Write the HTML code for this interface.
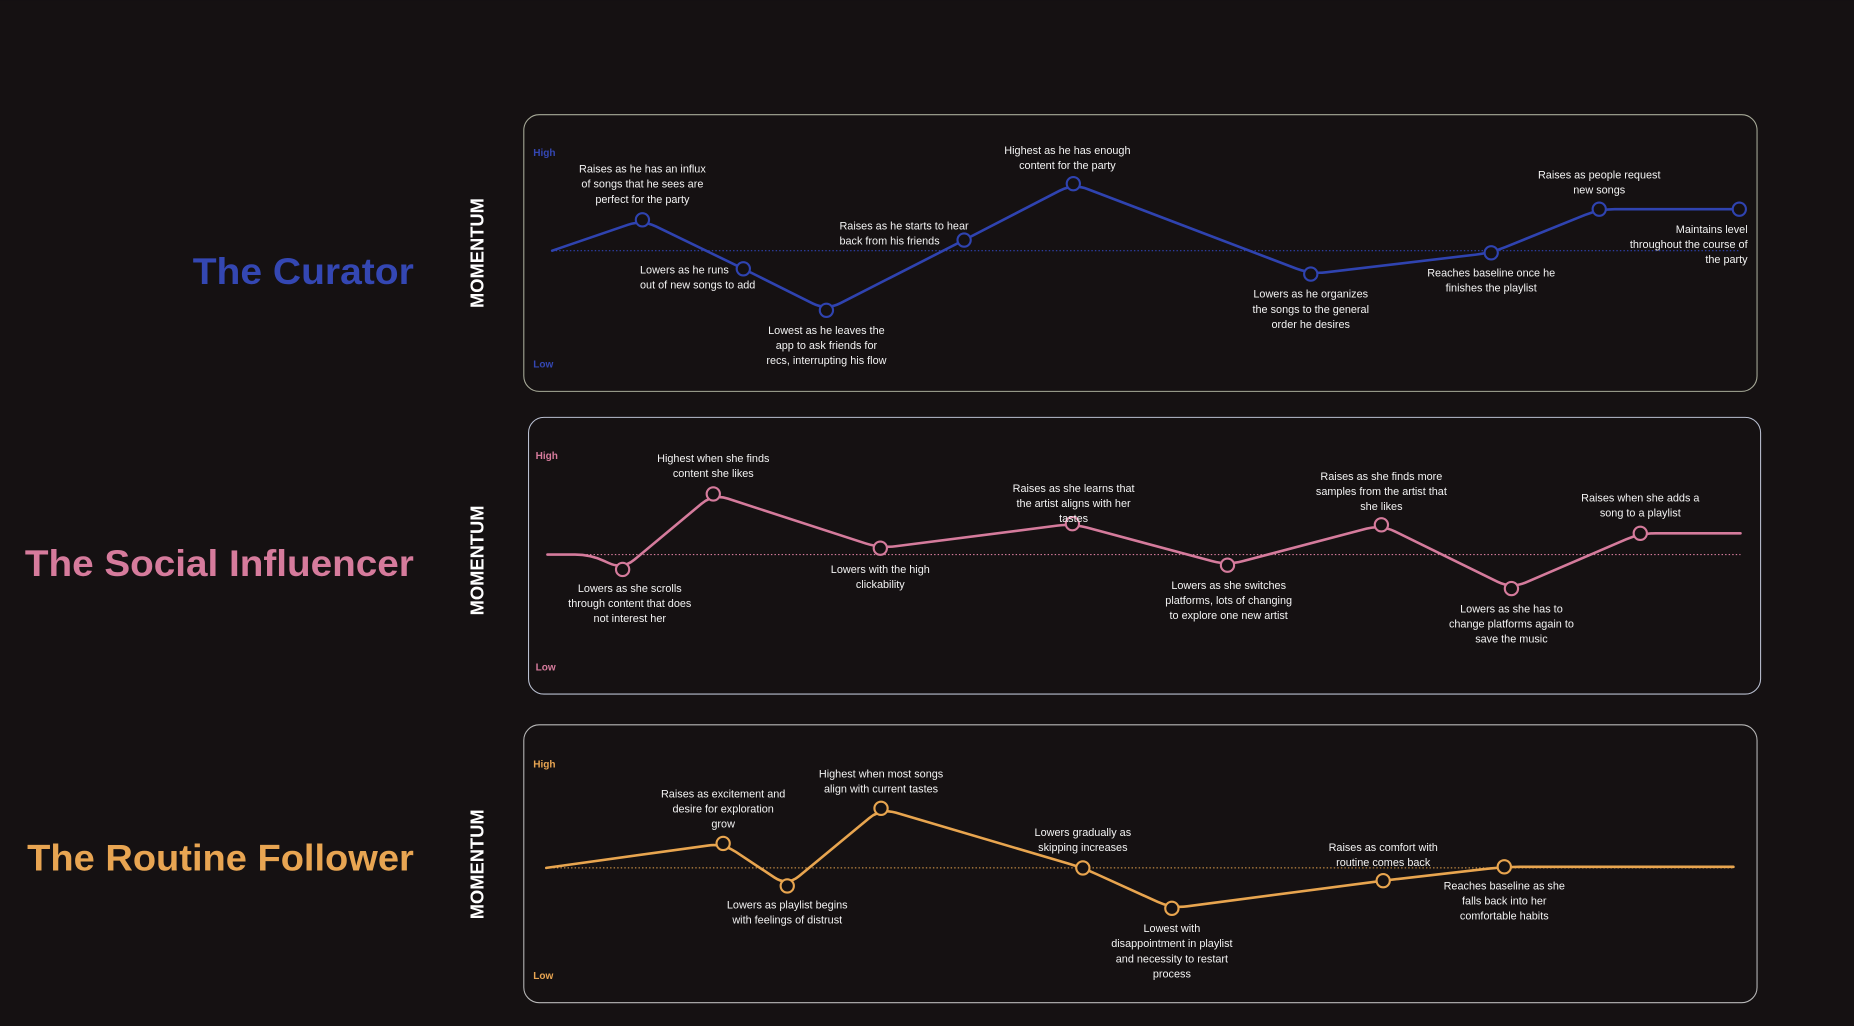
<!DOCTYPE html>
<html><head><meta charset="utf-8"><style>
html,body{margin:0;padding:0;background:#151112;}
svg{display:block}
text{font-family:"Liberation Sans",sans-serif;}
</style></head><body>
<svg id="chart" width="1854" height="1026" viewBox="0 0 1568 867.7" xmlns="http://www.w3.org/2000/svg">
<rect x="0" y="0" width="1568" height="868" fill="#151112"/>
</svg>
<script>
// ---- data: time (0-100 along the session) and momentum (-1 low .. 1 high) ----
const curatorTimes = [0, 7.6, 16.1, 23.1, 34.7, 43.9, 63.9, 79.1, 88.2, 100];
const curatorValues = [0, 0.29, -0.17, -0.56, 0.1, 0.63, -0.22, -0.02, 0.39, 0.39];
const curatorMarkers = [0, 1, 1, 1, 1, 1, 1, 1, 1, 1];
const socialTimes = [0, 3.6, 6.3, 13.9, 27.9, 44.0, 57.0, 69.9, 80.8, 91.6, 100];
const socialValues = [0, 0, -0.14, 0.57, 0.06, 0.29, -0.1, 0.28, -0.32, 0.2, 0.2];
const socialMarkers = [0, 0, 1, 1, 1, 1, 1, 1, 1, 1, 0];
const routineTimes = [0, 14.9, 20.3, 28.2, 45.2, 52.7, 70.5, 80.7, 100];
const routineValues = [0, 0.23, -0.17, 0.56, 0, -0.38, -0.12, 0.01, 0.01];
const routineMarkers = [0, 1, 1, 1, 1, 1, 1, 1, 0];

const curatorNotes = [
  {t:7.6, v:0.29, a:'middle', dy:-40, lines:['Raises as he has an influx','of songs that he sees are','perfect for the party']},
  {t:7.4, v:-0.17, a:'start', dy:4, lines:['Lowers as he runs','out of new songs to add']},
  {t:23.1, v:-0.56, a:'middle', dy:20, lines:['Lowest as he leaves the','app to ask friends for','recs, interrupting his flow']},
  {t:24.2, v:0.1, a:'start', dy:-9, lines:['Raises as he starts to hear','back from his friends']},
  {t:43.4, v:0.63, a:'middle', dy:-25, lines:['Highest as he has enough','content for the party']},
  {t:63.9, v:-0.22, a:'middle', dy:20, lines:['Lowers as he organizes','the songs to the general','order he desires']},
  {t:79.1, v:-0.02, a:'middle', dy:20, lines:['Reaches baseline once he','finishes the playlist']},
  {t:88.2, v:0.39, a:'middle', dy:-26, lines:['Raises as people request','new songs']},
  {t:100.7, v:0.39, a:'end', dy:20, lines:['Maintains level','throughout the course of','the party']}
];
const socialNotes = [
  {t:13.9, v:0.57, a:'middle', dy:-27, lines:['Highest when she finds','content she likes']},
  {t:6.9, v:-0.14, a:'middle', dy:19, lines:['Lowers as she scrolls','through content that does','not interest her']},
  {t:27.9, v:0.06, a:'middle', dy:21, lines:['Lowers with the high','clickability']},
  {t:44.1, v:0.29, a:'middle', dy:-27, lines:['Raises as she learns that','the artist aligns with her','tastes']},
  {t:57.1, v:-0.1, a:'middle', dy:20, lines:['Lowers as she switches','platforms, lots of changing','to explore one new artist']},
  {t:69.9, v:0.28, a:'middle', dy:-38, lines:['Raises as she finds more','samples from the artist that','she likes']},
  {t:80.8, v:-0.32, a:'middle', dy:20, lines:['Lowers as she has to','change platforms again to','save the music']},
  {t:91.6, v:0.2, a:'middle', dy:-27, lines:['Raises when she adds a','song to a playlist']}
];
const routineNotes = [
  {t:14.9, v:0.23, a:'middle', dy:-39, lines:['Raises as excitement and','desire for exploration','grow']},
  {t:20.3, v:-0.17, a:'middle', dy:19, lines:['Lowers as playlist begins','with feelings of distrust']},
  {t:28.2, v:0.56, a:'middle', dy:-26, lines:['Highest when most songs','align with current tastes']},
  {t:45.2, v:0, a:'middle', dy:-27, lines:['Lowers gradually as','skipping increases']},
  {t:52.7, v:-0.38, a:'middle', dy:20, lines:['Lowest with','disappointment in playlist','and necessity to restart','process']},
  {t:70.5, v:-0.12, a:'middle', dy:-25, lines:['Raises as comfort with','routine comes back']},
  {t:80.7, v:0.01, a:'middle', dy:19, lines:['Reaches baseline as she','falls back into her','comfortable habits']}
];

const NS = 'http://www.w3.org/2000/svg';
const svg = document.getElementById('chart');
function mk(tag, attrs, parent){
  const e = document.createElementNS(NS, tag);
  for (const k in attrs) e.setAttribute(k, attrs[k]);
  (parent||svg).appendChild(e);
  return e;
}

const panels = [
  {key:'curator', title:'The Curator', tw:187, color:'#3447b3', lineColor:'#2f43b0', box:[443,97,1043,234], boxStroke:'#a7aa98',
   x0:467, x1:1471, base:212, amp:90, high:129, low:308, hx:451, my:214, titleY:229,
   times:curatorTimes, values:curatorValues, markers:curatorMarkers, notes:curatorNotes, dashEnd:1471},
  {key:'social', title:'The Social Influencer', tw:329, color:'#d67b9c', lineColor:'#d57b9c', box:[447,353,1042,234], boxStroke:'#b9bfd0',
   x0:463, x1:1472, base:469, amp:90, high:385, low:564, hx:453, my:474, titleY:476,
   times:socialTimes, values:socialValues, markers:socialMarkers, notes:socialNotes, dashEnd:1472},
  {key:'routine', title:'The Routine Follower', tw:327, color:'#e8a552', lineColor:'#e8a54f', box:[443,613,1043,235], boxStroke:'#b8b8b8',
   x0:462, x1:1466, base:734, amp:90, high:646, low:825, hx:451, my:731, titleY:725,
   times:routineTimes, values:routineValues, markers:routineMarkers, notes:routineNotes, dashEnd:1466}
];

panels.forEach(p => {
  const xs = t => p.x0 + (p.x1 - p.x0) * t / 100;
  const ys = v => p.base - v * p.amp;
  const g = mk('g', {});
  
  

  const title = mk('text', {x:350 - p.tw, y:p.titleY+11, fill:p.color, 'font-size':31, 'font-weight':'bold', textLength:p.tw, lengthAdjust:'spacingAndGlyphs'}, g);
  title.textContent = p.title;
  
  

  const mom = mk('text', {x:0, y:0, transform:`translate(409 ${p.my}) rotate(-90)`, 'text-anchor':'middle', fill:'#ffffff', 'font-size':15.5, 'font-weight':'bold'}, g);
  mom.textContent = 'MOMENTUM';
  
  

  const b = p.box;
  const box = mk('rect', {x:b[0], y:b[1], width:b[2], height:b[3], rx:13, ry:13, fill:'#151112', stroke:p.boxStroke, 'stroke-width':0.9}, g);
  
  

  const hi = mk('text', {x:p.hx, y:p.high+3, fill:p.color, 'font-size':8.5, 'font-weight':'bold'}, g);
  hi.textContent = 'High';
  
  
  const lo = mk('text', {x:p.hx, y:p.low+3, fill:p.color, 'font-size':8.5, 'font-weight':'bold'}, g);
  lo.textContent = 'Low';
  
  

  const base = mk('line', {x1:xs(0), x2:p.dashEnd, y1:ys(0), y2:ys(0), stroke:p.lineColor, 'stroke-width':0.9, 'stroke-dasharray':'1.2 1.8'}, g);
  
  

  const pts = p.times.map((t,i) => [xs(t), ys(p.values[i])]);
  let d = `M${pts[0][0]},${pts[0][1]}`;
  const R = 13;
  for (let i = 1; i < pts.length; i++) {
    const c = pts[i];
    if (i === pts.length - 1) { d += ` L${c[0]},${c[1]}`; break; }
    const pr = pts[i-1], nx = pts[i+1];
    const l1 = Math.hypot(c[0]-pr[0], c[1]-pr[1]), l2 = Math.hypot(nx[0]-c[0], nx[1]-c[1]);
    const r1 = Math.min(R, l1/2), r2 = Math.min(R, l2/2);
    const a = [c[0] - (c[0]-pr[0])*r1/l1, c[1] - (c[1]-pr[1])*r1/l1];
    const e = [c[0] + (nx[0]-c[0])*r2/l2, c[1] + (nx[1]-c[1])*r2/l2];
    d += ` L${a[0]},${a[1]} Q${c[0]},${c[1]} ${e[0]},${e[1]}`;
  }
  const line = mk('path', {d:d, fill:'none', stroke:p.lineColor, 'stroke-width':2.2, 'stroke-linejoin':'round', 'stroke-linecap':'round'}, g);
  
  

  pts.forEach((pt, i) => {
    if (!p.markers[i]) return;
    const c = mk('circle', {cx:pt[0], cy:pt[1], r:5.6, fill:'#151112', stroke:p.lineColor, 'stroke-width':1.8}, g);
    
    
  });

  p.notes.forEach((n, i) => {
    const x = xs(n.t), y0 = ys(n.v) + n.dy;
    const tx = mk('text', {x:x, y:y0, 'text-anchor':n.a, fill:'#f2f2f2', 'font-size':9.2}, g);
    
    
    n.lines.forEach((ln, j) => {
      const ts = mk('tspan', {x:x, dy: j === 0 ? 0 : 12.8}, tx);
      ts.textContent = ln;
    });
  });
});
</script>
</body></html>
